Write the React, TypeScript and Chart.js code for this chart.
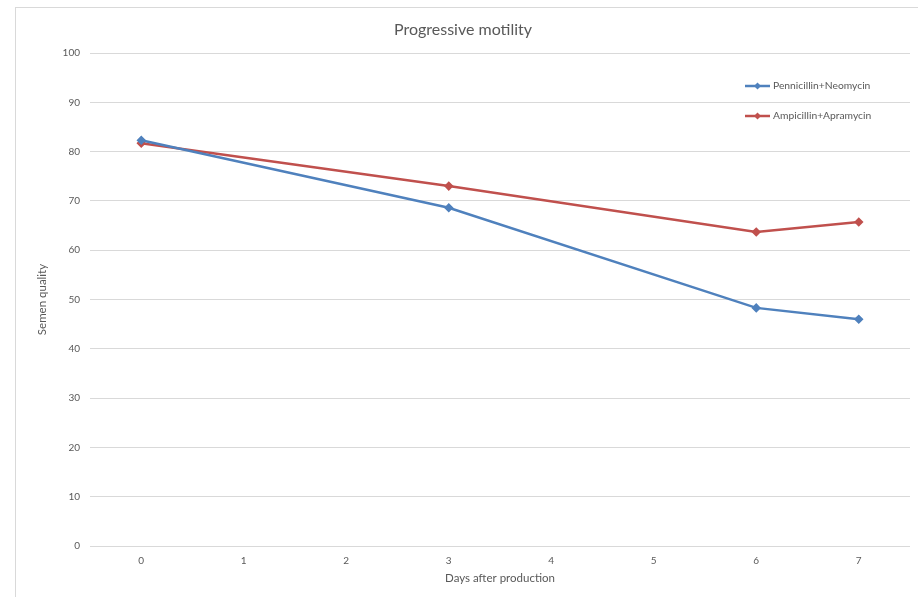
import React, { useEffect, useRef } from "react";
import { Chart, registerables } from "chart.js";

Chart.register(...registerables);

const days = ["0", "1", "2", "3", "4", "5", "6", "7"];
const pennNeo = [82.3, null, null, 68.6, null, null, 48.3, 46.0];
const ampApra = [81.7, null, null, 73.0, null, null, 63.7, 65.7];
const seriesNames = ["Pennicillin+Neomycin", "Ampicillin+Apramycin"];
const seriesColors = ["#4F81BD", "#C0504D"];

const FONT = "Lato, 'Open Sans', sans-serif";
const TEXT = "#595959";

const legendPlugin = {
  id: "insideLegend",
  afterDraw(chart: any) {
    const ctx = chart.ctx;
    const area = chart.chartArea;
    const x0 = area.right - 165;
    const ys = [area.top + 33, area.top + 63];
    chart.data.datasets.forEach((ds: any, i: number) => {
      const y = ys[i];
      ctx.save();
      ctx.strokeStyle = ds.borderColor;
      ctx.lineWidth = 2.5;
      ctx.beginPath();
      ctx.moveTo(x0, y);
      ctx.lineTo(x0 + 25, y);
      ctx.stroke();
      ctx.fillStyle = ds.borderColor;
      ctx.beginPath();
      ctx.moveTo(x0 + 12.5, y - 3.5);
      ctx.lineTo(x0 + 16, y);
      ctx.lineTo(x0 + 12.5, y + 3.5);
      ctx.lineTo(x0 + 9, y);
      ctx.closePath();
      ctx.fill();
      ctx.fillStyle = TEXT;
      ctx.font = `10.3px ${FONT}`;
      ctx.textBaseline = "middle";
      ctx.textAlign = "left";
      ctx.fillText(ds.label, x0 + 28, y);
      ctx.restore();
    });
  },
};

export default function App() {
  const ref = useRef<HTMLCanvasElement>(null);
  useEffect(() => {
    if (!ref.current) return;
    const chart = new Chart(ref.current, {
      type: "line",
      data: {
        labels: days,
        datasets: [
          {
            label: seriesNames[0],
            data: pennNeo,
            borderColor: seriesColors[0],
            backgroundColor: seriesColors[0],
            borderWidth: 2.5,
            pointStyle: "rectRot",
            pointRadius: 3,
            pointHoverRadius: 3,
            spanGaps: true,
            tension: 0,
          },
          {
            label: seriesNames[1],
            data: ampApra,
            borderColor: seriesColors[1],
            backgroundColor: seriesColors[1],
            borderWidth: 2.5,
            pointStyle: "rectRot",
            pointRadius: 3,
            pointHoverRadius: 3,
            spanGaps: true,
            tension: 0,
          },
        ],
      },
      options: {
        responsive: false,
        animation: false,
        layout: { padding: { left: 0, right: 8, top: 0, bottom: 0 } },
        plugins: {
          legend: { display: false },
          tooltip: { enabled: false },
          title: {
            display: true,
            text: "Progressive motility",
            color: TEXT,
            font: { family: FONT, size: 16, weight: "normal" },
            padding: { top: 11.9, bottom: 13.9 },
          },
        },
        scales: {
          x: {
            offset: true,
            grid: { display: false, drawTicks: false },
            border: { display: false },
            ticks: {
              color: TEXT,
              font: { family: FONT, size: 10 },
              padding: 9,
              maxRotation: 0,
            },
            title: {
              display: true,
              text: "Days after production",
              color: TEXT,
              font: { family: FONT, size: 11.5 },
              padding: { top: 0, bottom: 12 },
            },
            afterFit(scale: any) {
              scale.height = 51;
            },
          },
          y: {
            min: 0,
            max: 100,
            ticks: {
              stepSize: 10,
              color: TEXT,
              font: { family: FONT, size: 10 },
              padding: 10,
            },
            grid: { color: "#D9D9D9", lineWidth: 1, drawTicks: false },
            border: { display: false },
            title: {
              display: true,
              text: "Semen quality",
              color: TEXT,
              font: { family: FONT, size: 11.5 },
              padding: { top: 19, bottom: 0 },
            },
            afterFit(scale: any) {
              scale.width = 74;
            },
          },
        },
      },
      plugins: [legendPlugin],
    });
    return () => chart.destroy();
  }, []);
  return (
    <div
      style={{
        position: "absolute",
        left: 15,
        top: 7,
        width: 902,
        height: 589,
        borderLeft: "1px solid #D9D9D9",
        borderTop: "1px solid #D9D9D9",
        background: "#fff",
      }}
    >
      <canvas ref={ref} width={902} height={589} style={{ display: "block", width: 902, height: 589 }} />
    </div>
  );
}
